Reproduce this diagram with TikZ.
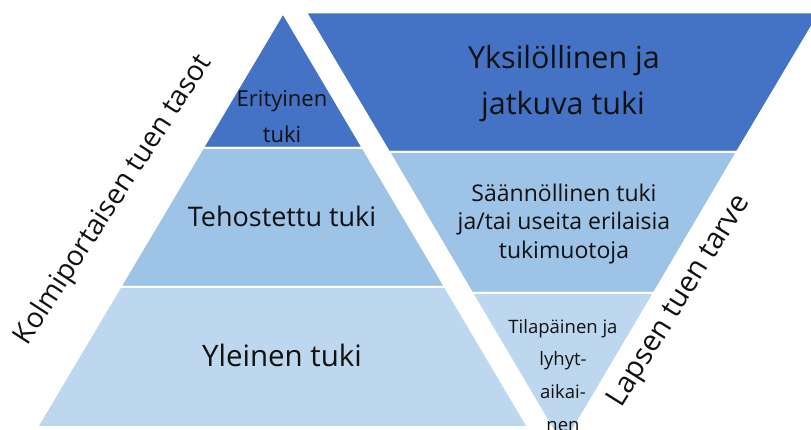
\documentclass[tikz,border=0pt]{standalone}
\usepackage{fontspec}
\setmainfont{Open Sans}
\definecolor{bandDark}{HTML}{4472C4}
\definecolor{bandMid}{HTML}{9DC3E6}
\definecolor{bandLight}{HTML}{BDD7EE}
\definecolor{txt}{HTML}{111111}
\newcommand{\fsz}[1]{\fontsize{#1}{#1}\selectfont}
\begin{document}
\begin{tikzpicture}[x=1pt,y=-1pt,
  band/.style={draw=white,line width=2pt,line join=miter},
  lbl/.style={anchor=base,inner sep=0pt,text=txt},
  side/.style={anchor=base,inner sep=0pt,text=txt}]
\useasboundingbox (0,0) rectangle (811,430);
\begin{scope}
\clip (0,0) rectangle (811,430);
% left pyramid: three levels
\filldraw[band,fill=bandDark]  (283,13) -- (362.9,148) -- (202.8,148) -- cycle;
\filldraw[band,fill=bandMid]   (202.8,148) -- (362.9,148) -- (445.2,287) -- (120.2,287) -- cycle;
\filldraw[band,fill=bandLight] (120.2,287) -- (445.2,287) -- (528,427) -- (37,427) -- cycle;
% inverted pyramid: need of support
\filldraw[band,fill=bandDark]  (306,12.5) -- (820,12.5) -- (737,152) -- (389,152) -- cycle;
\filldraw[band,fill=bandMid]   (389,152) -- (737,152) -- (654,293) -- (472,293) -- cycle;
\filldraw[band,fill=bandLight] (472,293) -- (654,293) -- (563,447) -- cycle;
% labels of the left pyramid
\node[lbl,font=\fsz{22}] (eri1) at (282,106.7) {Erityinen};
\node[lbl,font=\fsz{22}] (eri2) at (282,143) {tuki};
\node[lbl,font=\fsz{27}] (teh) at (282,226.7) {Tehostettu tuki};
\node[lbl,font=\fsz{29.5}] (yle) at (282,366.7) {Yleinen tuki};
% labels of the inverted pyramid
\node[lbl,font=\fsz{30.5}] (yks1) at (564,68.3) {Yksilöllinen ja};
\node[lbl,font=\fsz{30.5}] (yks2) at (563,115) {jatkuva tuki};
\node[lbl,font=\fsz{23}] (saa1) at (564,201.7) {Säännöllinen tuki};
\node[lbl,font=\fsz{23}] (saa2) at (564,230) {ja/tai useita erilaisia};
\node[lbl,font=\fsz{23}] (saa3) at (564,258.3) {tukimuotoja};
\node[lbl,font=\fsz{18.5}] (til1) at (563,333.3) {Tilapäinen ja};
\node[lbl,font=\fsz{18.5}] (til2) at (563,365.5) {lyhyt-};
\node[lbl,font=\fsz{18.5}] (til3) at (563,398.3) {aikai-};
\node[lbl,font=\fsz{18.5}] (til4) at (563,431) {nen};
% side titles
\node[side,font=\fsz{28},rotate=57] (kolmi) at (120,204) {Kolmiportaisen tuen tasot};
\node[side,font=\fsz{29},rotate=58] (lapsen) at (685.5,305) {Lapsen tuen tarve};
\end{scope}
\end{tikzpicture}
\end{document}
